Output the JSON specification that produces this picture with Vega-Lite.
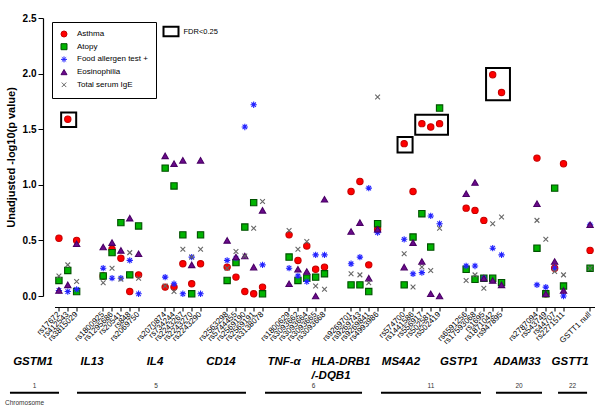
{
  "$schema": "https://vega.github.io/schema/vega-lite/v6.json",
  "width": 540,
  "height": 278,
  "autosize": "none",
  "padding": {"left": 54.5, "top": 18, "right": 5.5, "bottom": 120},
  "config": {"view": {"stroke": null}, "font": "Liberation Sans", "axis": {"grid": false}},
  "datasets": {
    "snps": [
      {"snp": "rs17672", "Asthma": 0.52, "Atopy": 0.14, "Food allergen test +": 0.05, "Eosinophilia": 0.05, "Total serum IgE": 0.18},
      {"snp": "rs412543", "Asthma": 1.59, "Atopy": 0.23, "Food allergen test +": 0.04, "Eosinophilia": 0.10, "Total serum IgE": 0.28},
      {"snp": "rs3815029", "Asthma": 0.50, "Atopy": 0.04, "Food allergen test +": 0.06, "Eosinophilia": 0.47, "Total serum IgE": 0.13},
      {"snp": "rs1800925", "Asthma": 0.18, "Atopy": 0.18, "Food allergen test +": 0.25, "Eosinophilia": 0.44, "Total serum IgE": 0.12},
      {"snp": "rs1295686", "Asthma": 0.42, "Atopy": 0.39, "Food allergen test +": 0.16, "Eosinophilia": 0.48, "Total serum IgE": 0.25},
      {"snp": "rs20541", "Asthma": 0.34, "Atopy": 0.66, "Food allergen test +": 0.16, "Eosinophilia": 0.41, "Total serum IgE": 0.15},
      {"snp": "rs848", "Asthma": 0.04, "Atopy": 0.19, "Food allergen test +": 0.32, "Eosinophilia": 0.70, "Total serum IgE": 0.39},
      {"snp": "rs2069750", "Asthma": 0.19, "Atopy": 0.63, "Food allergen test +": 0.02, "Eosinophilia": 0.38, "Total serum IgE": 0.16},
      {"snp": "rs2070874", "Asthma": 0.08, "Atopy": 1.15, "Food allergen test +": 0.17, "Eosinophilia": 1.26, "Total serum IgE": 0.09},
      {"snp": "rs734244", "Asthma": 0.08, "Atopy": 0.99, "Food allergen test +": 0.11, "Eosinophilia": 1.19, "Total serum IgE": 0.04},
      {"snp": "rs2243267", "Asthma": 0.29, "Atopy": 0.55, "Food allergen test +": 0.02, "Eosinophilia": 1.22, "Total serum IgE": 0.42},
      {"snp": "rs2243270", "Asthma": 0.11, "Atopy": 0.02, "Food allergen test +": 0.35, "Eosinophilia": 0.28, "Total serum IgE": 0.35},
      {"snp": "rs2243290", "Asthma": 0.29, "Atopy": 0.55, "Food allergen test +": 0.02, "Eosinophilia": 1.22, "Total serum IgE": 0.42},
      {"snp": "rs2563298", "Asthma": 0.26, "Atopy": 0.14, "Food allergen test +": 0.32, "Eosinophilia": 0.50, "Total serum IgE": 0.25},
      {"snp": "rs5744455", "Asthma": 0.17, "Atopy": 0.30, "Food allergen test +": 0.34, "Eosinophilia": 0.35, "Total serum IgE": 0.40},
      {"snp": "rs2569190", "Asthma": 0.04, "Atopy": 0.62, "Food allergen test +": 1.52, "Eosinophilia": 0.36, "Total serum IgE": 0.36},
      {"snp": "rs2569191", "Asthma": 0.02, "Atopy": 0.84, "Food allergen test +": 1.72, "Eosinophilia": 0.26, "Total serum IgE": 0.61},
      {"snp": "rs3138078", "Asthma": 0.08, "Atopy": 0.02, "Food allergen test +": 0.28, "Eosinophilia": 0.77, "Total serum IgE": 0.85},
      {"snp": "rs1800629", "Asthma": 0.55, "Atopy": 0.35, "Food allergen test +": 0.25, "Eosinophilia": 0.11, "Total serum IgE": 0.59},
      {"snp": "rs3093662", "Asthma": 0.32, "Atopy": 0.14, "Food allergen test +": 0.18, "Eosinophilia": 0.24, "Total serum IgE": 0.42},
      {"snp": "rs3093664", "Asthma": 0.45, "Atopy": 0.16, "Food allergen test +": 0.13, "Eosinophilia": 0.22, "Total serum IgE": 0.49},
      {"snp": "rs3093665", "Asthma": 0.24, "Atopy": 0.17, "Food allergen test +": 0.37, "Eosinophilia": 0.00, "Total serum IgE": 0.09},
      {"snp": "rs3093668", "Asthma": 0.26, "Atopy": 0.20, "Food allergen test +": 0.37, "Eosinophilia": 0.87, "Total serum IgE": 0.06},
      {"snp": "rs9269701", "Asthma": 0.94, "Atopy": 0.10, "Food allergen test +": 0.29, "Eosinophilia": 0.58, "Total serum IgE": 0.20},
      {"snp": "rs9269743", "Asthma": 1.03, "Atopy": 0.10, "Food allergen test +": 0.35, "Eosinophilia": 0.66, "Total serum IgE": 0.19},
      {"snp": "rs9269841", "Asthma": 0.28, "Atopy": 0.04, "Food allergen test +": 0.97, "Eosinophilia": 0.16, "Total serum IgE": 0.12},
      {"snp": "rs4993986", "Asthma": 0.60, "Atopy": 0.65, "Food allergen test +": 0.57, "Eosinophilia": 0.60, "Total serum IgE": 1.79},
      {"snp": "rs574700", "Asthma": 1.37, "Atopy": 0.10, "Food allergen test +": 0.51, "Eosinophilia": 0.26, "Total serum IgE": 0.38},
      {"snp": "rs1441586", "Asthma": 0.94, "Atopy": 0.53, "Food allergen test +": 0.20, "Eosinophilia": 0.48, "Total serum IgE": 0.08},
      {"snp": "rs556917", "Asthma": 1.55, "Atopy": 0.74, "Food allergen test +": 0.21, "Eosinophilia": 0.31, "Total serum IgE": 0.26},
      {"snp": "rs502581", "Asthma": 1.52, "Atopy": 0.44, "Food allergen test +": 0.72, "Eosinophilia": 0.02, "Total serum IgE": 0.23},
      {"snp": "rs502419", "Asthma": 1.55, "Atopy": 1.69, "Food allergen test +": 0.65, "Eosinophilia": 0.00, "Total serum IgE": 0.61},
      {"snp": "rs6591256", "Asthma": 0.79, "Atopy": 0.24, "Food allergen test +": 0.27, "Eosinophilia": 0.92, "Total serum IgE": 0.14},
      {"snp": "rs17593068", "Asthma": 0.77, "Atopy": 0.15, "Food allergen test +": 0.27, "Eosinophilia": 1.02, "Total serum IgE": 0.19},
      {"snp": "rs1695", "Asthma": 0.68, "Atopy": 0.16, "Food allergen test +": 0.16, "Eosinophilia": 0.16, "Total serum IgE": 0.07},
      {"snp": "rs1871042", "Asthma": 1.99, "Atopy": 0.16, "Food allergen test +": 0.43, "Eosinophilia": 0.14, "Total serum IgE": 0.65},
      {"snp": "rs947895", "Asthma": 1.83, "Atopy": 0.12, "Food allergen test +": 0.37, "Eosinophilia": 0.10, "Total serum IgE": 0.71},
      {"snp": "rs2787094", "Asthma": 1.24, "Atopy": 0.43, "Food allergen test +": 0.10, "Eosinophilia": 0.83, "Total serum IgE": 0.68},
      {"snp": "rs543749", "Asthma": 0.02, "Atopy": 0.02, "Food allergen test +": 0.08, "Eosinophilia": 0.02, "Total serum IgE": 0.51},
      {"snp": "rs44707", "Asthma": 0.25, "Atopy": 0.97, "Food allergen test +": 0.25, "Eosinophilia": 0.31, "Total serum IgE": 0.22},
      {"snp": "rs2271511", "Asthma": 1.19, "Atopy": 0.09, "Food allergen test +": 0.00, "Eosinophilia": 0.05, "Total serum IgE": 0.19},
      {"snp": "GSTT1 null", "Asthma": 0.41, "Atopy": 0.25, "Food allergen test +": 0.64, "Eosinophilia": 0.64, "Total serum IgE": 0.25}
    ],
    "boxes": [
      {"first": "rs412543", "last": "rs412543", "lo": 1.52, "hi": 1.65, "label": "FDR<0.25"},
      {"first": "rs574700", "last": "rs574700", "lo": 1.29, "hi": 1.43, "label": "FDR<0.25"},
      {"first": "rs556917", "last": "rs502419", "lo": 1.45, "hi": 1.63, "label": "FDR<0.25"},
      {"first": "rs1871042", "last": "rs947895", "lo": 1.76, "hi": 2.05, "label": "FDR<0.25"}
    ],
    "genes": [
      {"gene": "GSTM1", "at": -2.93, "row": "gene"},
      {"gene": "IL13", "at": 3.74, "row": "gene"},
      {"gene": "IL4", "at": 10.85, "row": "gene"},
      {"gene": "CD14", "at": 18.31, "row": "gene"},
      {"gene": "TNF-α", "at": 25.43, "row": "gene"},
      {"gene": "HLA-DRB1", "at": 31.87, "row": "gene"},
      {"gene": "/-DQB1", "at": 30.74, "row": "gene2"},
      {"gene": "MS4A2", "at": 38.64, "row": "gene"},
      {"gene": "GSTP1", "at": 45.19, "row": "gene"},
      {"gene": "ADAM33", "at": 51.75, "row": "gene"},
      {"gene": "GSTT1", "at": 57.74, "row": "gene"}
    ],
    "chroms": [
      {"chr": "1", "from": -5.53, "to": 0.01, "mid": -2.76},
      {"chr": "5", "from": 2.04, "to": 21.13, "mid": 10.97},
      {"chr": "6", "from": 23.28, "to": 34.24, "mid": 28.76},
      {"chr": "11", "from": 36.38, "to": 47.68, "mid": 42.03},
      {"chr": "20", "from": 49.37, "to": 54.57, "mid": 51.97},
      {"chr": "22", "from": 56.38, "to": 59.66, "mid": 58.02}
    ],
    "caption": [
      {"text": "Chromosome", "at": -6.09, "row": "title"}
    ]
  },
  "layer": [
    {
      "layer": [
        {
          "data": {"name": "snps"},
          "transform": [{"fold": ["Asthma", "Atopy", "Food allergen test +", "Eosinophilia", "Total serum IgE"], "as": ["trait", "value"]}],
          "mark": {"type": "point", "filled": true, "size": 40, "strokeWidth": 1.1, "opacity": 1},
          "encoding": {
            "x": {
              "field": "snp", "type": "nominal",
              "scale": {"type": "band", "paddingInner": 0, "paddingOuter": 0,
                "domain": ["rs17672", "rs412543", "rs3815029", "gap1", "gap2",
                  "rs1800925", "rs1295686", "rs20541", "rs848", "rs2069750", "gap3", "gap4",
                  "rs2070874", "rs734244", "rs2243267", "rs2243270", "rs2243290", "gap5", "gap6",
                  "rs2563298", "rs5744455", "rs2569190", "rs2569191", "rs3138078", "gap7", "gap8",
                  "rs1800629", "rs3093662", "rs3093664", "rs3093665", "rs3093668", "gap9", "gap10",
                  "rs9269701", "rs9269743", "rs9269841", "rs4993986", "gap11", "gap12",
                  "rs574700", "rs1441586", "rs556917", "rs502581", "rs502419", "gap13", "gap14",
                  "rs6591256", "rs17593068", "rs1695", "rs1871042", "rs947895", "gap15", "gap16", "gap17",
                  "rs2787094", "rs543749", "rs44707", "rs2271511", "gap18", "gap19", "GSTT1 null"]},
              "axis": {
                "title": null, "offset": 11, "labelAngle": -45, "labelAlign": "right", "labelBaseline": "middle",
                "labelFontSize": 8, "labelColor": "black", "labelPadding": 2, "labelOverlap": false, "labelBound": false,
                "tickSize": 4, "tickColor": "black", "domainColor": "black", "domainWidth": 1.2,
                "labelExpr": "indexof(datum.value, 'gap') == 0 ? '' : datum.value",
                "tickOpacity": {"condition": {"test": "indexof(datum.value, 'gap') == 0", "value": 0}, "value": 1}
              }
            },
            "y": {
              "field": "value", "type": "quantitative",
              "scale": {"domain": [0, 2.5], "nice": false, "zero": false},
              "axis": {
                "title": "Unadjusted -log10(p value)", "titleFontSize": 11, "titleFontWeight": "bold", "titleColor": "black", "titlePadding": 6,
                "values": [0, 0.25, 0.5, 0.75, 1, 1.25, 1.5, 1.75, 2, 2.25, 2.5],
                "labelExpr": "datum.value % 0.5 == 0 ? format(datum.value, '.1f') : ''",
                "labelFontSize": 10, "labelFontWeight": "bold", "labelColor": "black", "labelPadding": 2,
                "offset": 11.5, "domainColor": "black", "domainWidth": 1.2, "tickColor": "black",
                "tickSize": {"condition": {"test": "datum.value % 0.5 != 0", "value": 3}, "value": 5}
              }
            },
            "shape": {
              "field": "trait", "type": "nominal",
              "scale": {"domain": ["Asthma", "Atopy", "Food allergen test +", "Eosinophilia", "Total serum IgE"],
                "range": ["circle", "square", "M0,-1L0,1M-1,0L1,0M-0.71,-0.71L0.71,0.71M-0.71,0.71L0.71,-0.71", "triangle-up", "M-0.75,-0.75L0.75,0.75M-0.75,0.75L0.75,-0.75"]},
              "legend": {
                "orient": "none", "legendX": -2.5, "legendY": 4, "title": null, "padding": 8, "strokeColor": "black", "fillColor": "white",
                "labelFontSize": 8, "labelColor": "black", "rowPadding": 2.7, "labelOffset": 9, "symbolSize": 36, "symbolStrokeWidth": 1,
                "encode": {"legend": {"update": {"strokeWidth": {"value": 1.5}}}}
              }
            },
            "fill": {
              "field": "trait", "type": "nominal",
              "scale": {"domain": ["Asthma", "Atopy", "Food allergen test +", "Eosinophilia", "Total serum IgE"],
                "range": ["#ff0000", "#00b400", "#2323ff", "#6b0a8c", "#777777"]},
              "legend": {"orient": "none", "legendX": -2.5, "legendY": 4, "title": null, "padding": 8, "strokeColor": "black", "fillColor": "white",
                "labelFontSize": 8, "labelColor": "black", "rowPadding": 2.7, "labelOffset": 9, "symbolSize": 36, "symbolStrokeWidth": 1,
                "encode": {"legend": {"update": {"strokeWidth": {"value": 1.5}}}}}
            },
            "stroke": {
              "field": "trait", "type": "nominal",
              "scale": {"domain": ["Asthma", "Atopy", "Food allergen test +", "Eosinophilia", "Total serum IgE"],
                "range": ["#c80000", "#005000", "#2323ff", "#4a0066", "#666666"]},
              "legend": {"orient": "none", "legendX": -2.5, "legendY": 4, "title": null, "padding": 8, "strokeColor": "black", "fillColor": "white",
                "labelFontSize": 8, "labelColor": "black", "rowPadding": 2.7, "labelOffset": 9, "symbolSize": 36, "symbolStrokeWidth": 1,
                "encode": {"legend": {"update": {"strokeWidth": {"value": 1.5}}}}}
            }
          }
        },
        {
          "data": {"name": "boxes"},
          "mark": {"type": "rect", "filled": false, "strokeWidth": 2},
          "encoding": {
            "x": {"field": "first", "type": "nominal", "bandPosition": -0.25},
            "x2": {"field": "last", "bandPosition": 1.45},
            "y": {"field": "hi", "type": "quantitative"},
            "y2": {"field": "lo"},
            "color": {
              "field": "label", "type": "nominal", "scale": {"range": ["black"]},
              "legend": {"orient": "none", "legendX": 108, "legendY": 5, "title": null, "padding": 0,
                "symbolType": "M-1,-0.62H1V0.62H-1Z", "symbolSize": 225, "symbolStrokeWidth": 2, "symbolFillColor": "white",
                "labelFontSize": 7.5, "labelColor": "black", "labelOffset": 4}
            }
          }
        }
      ]
    },
    {
      "data": {"name": "genes"},
      "mark": {"type": "text", "fontWeight": "bold", "fontStyle": "italic", "fontSize": 11.5, "color": "black", "baseline": "middle"},
      "encoding": {
        "x": {"field": "at", "type": "quantitative", "scale": {"domain": [-0.5, 60.5], "nice": false, "zero": false}, "axis": null},
        "y": {"field": "row", "type": "ordinal", "scale": {"type": "point", "domain": ["gene", "p1", "p2", "p3", "gene2", "p4", "p5", "chrnum", "p6", "line", "p7", "p8", "title"], "range": [344, 385], "padding": 0}, "axis": null},
        "text": {"field": "gene"}
      }
    },
    {
      "data": {"name": "chroms"},
      "mark": {"type": "rule", "strokeWidth": 2, "color": "black"},
      "encoding": {
        "x": {"field": "from", "type": "quantitative", "scale": {"domain": [-0.5, 60.5], "nice": false, "zero": false}, "axis": null},
        "x2": {"field": "to"},
        "y": {"datum": "line", "type": "ordinal", "scale": {"type": "point", "domain": ["gene", "p1", "p2", "p3", "gene2", "p4", "p5", "chrnum", "p6", "line", "p7", "p8", "title"], "range": [344, 385], "padding": 0}, "axis": null}
      }
    },
    {
      "data": {"name": "chroms"},
      "mark": {"type": "text", "fontSize": 6.5, "color": "#333333", "baseline": "middle"},
      "encoding": {
        "x": {"field": "mid", "type": "quantitative", "scale": {"domain": [-0.5, 60.5], "nice": false, "zero": false}, "axis": null},
        "y": {"datum": "chrnum", "type": "ordinal", "scale": {"type": "point", "domain": ["gene", "p1", "p2", "p3", "gene2", "p4", "p5", "chrnum", "p6", "line", "p7", "p8", "title"], "range": [344, 385], "padding": 0}, "axis": null},
        "text": {"field": "chr"}
      }
    },
    {
      "data": {"name": "caption"},
      "mark": {"type": "text", "fontSize": 6.5, "color": "#333333", "baseline": "middle", "align": "left"},
      "encoding": {
        "x": {"field": "at", "type": "quantitative", "scale": {"domain": [-0.5, 60.5], "nice": false, "zero": false}, "axis": null},
        "y": {"field": "row", "type": "ordinal", "scale": {"type": "point", "domain": ["gene", "p1", "p2", "p3", "gene2", "p4", "p5", "chrnum", "p6", "line", "p7", "p8", "title"], "range": [344, 385], "padding": 0}, "axis": null},
        "text": {"field": "text"}
      }
    }
  ],
  "resolve": {"scale": {"x": "independent", "y": "independent"}}
}
